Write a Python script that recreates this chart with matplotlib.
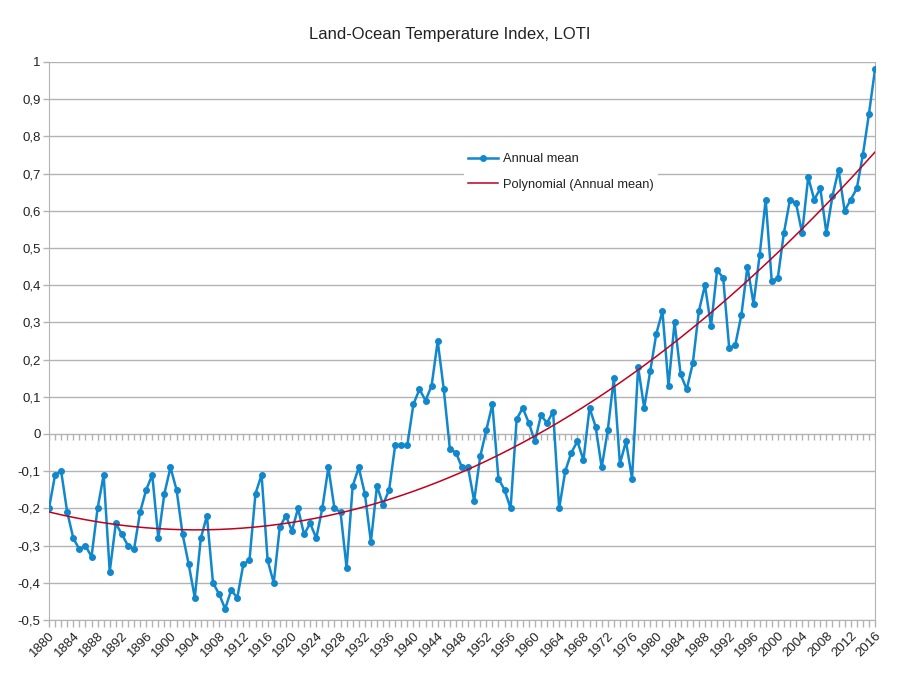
import matplotlib
matplotlib.use('Agg')
import matplotlib.pyplot as plt
from matplotlib.ticker import FuncFormatter
import numpy as np

plt.rcParams['font.family'] = ['Liberation Sans', 'DejaVu Sans']
plt.rcParams['axes.unicode_minus'] = False

# GISTEMP annual mean, 1880-2016
years = list(range(1880, 2017))
annual_mean = [
    -0.20, -0.11, -0.10, -0.21, -0.28, -0.31, -0.30, -0.33, -0.20, -0.11,
    -0.37, -0.24, -0.27, -0.30, -0.31, -0.21, -0.15, -0.11, -0.28, -0.16,
    -0.09, -0.15, -0.27, -0.35, -0.44, -0.28, -0.22, -0.40, -0.43, -0.47,
    -0.42, -0.44, -0.35, -0.34, -0.16, -0.11, -0.34, -0.40, -0.25, -0.22,
    -0.26, -0.20, -0.27, -0.24, -0.28, -0.20, -0.09, -0.20, -0.21, -0.36,
    -0.14, -0.09, -0.16, -0.29, -0.14, -0.19, -0.15, -0.03, -0.03, -0.03,
    0.08, 0.12, 0.09, 0.13, 0.25, 0.12, -0.04, -0.05, -0.09, -0.09,
    -0.18, -0.06, 0.01, 0.08, -0.12, -0.15, -0.20, 0.04, 0.07, 0.03,
    -0.02, 0.05, 0.03, 0.06, -0.20, -0.10, -0.05, -0.02, -0.07, 0.07,
    0.02, -0.09, 0.01, 0.15, -0.08, -0.02, -0.12, 0.18, 0.07, 0.17,
    0.27, 0.33, 0.13, 0.30, 0.16, 0.12, 0.19, 0.33, 0.40, 0.29,
    0.44, 0.42, 0.23, 0.24, 0.32, 0.45, 0.35, 0.48, 0.63, 0.41,
    0.42, 0.54, 0.63, 0.62, 0.54, 0.69, 0.63, 0.66, 0.54, 0.64,
    0.71, 0.60, 0.63, 0.66, 0.75, 0.86, 0.98,
]
y_ticks = [-0.5, -0.4, -0.3, -0.2, -0.1, 0, 0.1, 0.2, 0.3, 0.4, 0.5, 0.6, 0.7, 0.8, 0.9, 1]

x = np.array(years, dtype=float)
y = np.array(annual_mean)

# polynomial trend (degree 2), like the spreadsheet trend line
coef = np.polyfit(x - x.mean(), y, 2)
trend = np.polyval(coef, x - x.mean())

fig = plt.figure(figsize=(8.98, 6.82), dpi=100)
ax = fig.add_axes([49 / 898, 1 - 620 / 682, (875 - 49) / 898, (620 - 62) / 682])

grid_col = '#b3b3b3'
blue = '#1187cc'
red = '#c0001c'

for v in y_ticks:
    ax.axhline(v, color=grid_col, lw=1, zorder=0)

ax.plot(x, y, color=blue, lw=1.8, marker='o', ms=4, label='Annual mean', zorder=3)
ax.plot(x, trend, color=red, lw=1.1, label='Polynomial (Annual mean)', zorder=4)

# small year ticks along the zero line
ax.vlines(x, -0.016, 0, color=grid_col, lw=1, zorder=1)

ax.set_xlim(years[0], years[-1])
ax.set_ylim(-0.5, 1)
ax.set_yticks(y_ticks)
ax.yaxis.set_major_formatter(FuncFormatter(lambda v, p: f"{v:g}".replace('.', ',')))
ax.set_xticks(years)
ax.set_xticklabels([str(yr) if (yr - 1880) % 4 == 0 else '' for yr in years],
                   rotation=45, ha='right', rotation_mode='anchor')

for s in ['left', 'right', 'bottom']:
    ax.spines[s].set_color(grid_col)
ax.spines['top'].set_visible(False)
ax.tick_params(axis='both', colors=grid_col, labelcolor='#222222', length=5, width=1)
ax.tick_params(axis='x', labelsize=9.5, pad=2)
ax.tick_params(axis='y', labelsize=9.5, pad=2, length=4)

fig.text(450 / 898, 1 - 34 / 682, 'Land-Ocean Temperature Index, LOTI', fontsize=12,
         color='#222222', ha='center', va='center')

leg = ax.legend(loc='upper left', bbox_to_anchor=(0.495, 0.855), frameon=True, fontsize=9.3,
                handlelength=2.3, handletextpad=0.4, labelspacing=1.05, borderpad=0.3)
leg.get_frame().set_edgecolor('none')
leg.get_frame().set_facecolor('white')
leg.get_frame().set_alpha(1)
for t in leg.get_texts():
    t.set_color('#222222')

fig.savefig('out.png', dpi=100)
